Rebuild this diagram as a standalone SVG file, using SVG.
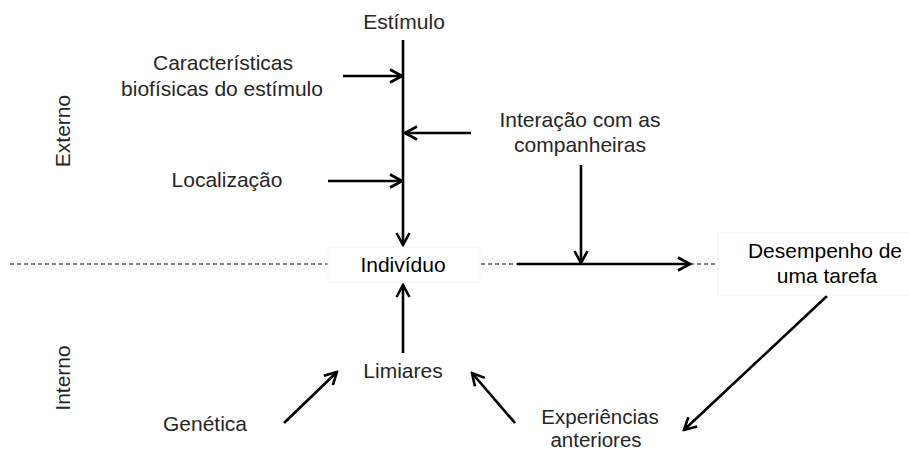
<svg xmlns="http://www.w3.org/2000/svg" width="909" height="452" viewBox="0 0 909 452">
<style>
text{font-family:"Liberation Sans",Arial,sans-serif;font-size:21px;fill:#262626;text-anchor:middle}
.key{fill:#000}
.small{font-size:20.5px}
.box{fill:#fff;stroke:#f4f4f4;stroke-width:1}
.arr{stroke:#000;stroke-width:2.6;fill:none;marker-end:url(#ah)}
.dash{stroke:#000;stroke-width:1;stroke-dasharray:4 3;fill:none}
</style>
<defs>
<marker id="ah" markerUnits="userSpaceOnUse" markerWidth="16" markerHeight="16" viewBox="-14 -8 16 16" refX="0" refY="0" orient="auto">
<path d="M-12,-6.5 L0,0 L-12,6.5" fill="none" stroke="#000" stroke-width="2.6"/>
</marker>
</defs>
<g id="boundaries">
<line class="dash" x1="10" y1="264" x2="328" y2="264"/>
<line class="dash" x1="481" y1="264" x2="517" y2="264"/>
<line class="dash" x1="690" y1="264" x2="718" y2="264"/>
<text transform="translate(70,131) rotate(-90)">Externo</text>
<text transform="translate(70,378) rotate(-90)">Interno</text>
</g>
<g id="connectors">
<line class="arr" x1="403" y1="40" x2="403" y2="245"/>
<line class="arr" x1="343" y1="76" x2="402" y2="76"/>
<line class="arr" x1="471" y1="133" x2="405" y2="133"/>
<line class="arr" x1="328" y1="181" x2="402" y2="181"/>
<line class="arr" x1="581" y1="165" x2="581" y2="263"/>
<line class="arr" x1="517" y1="264" x2="690" y2="264"/>
<line class="arr" x1="403" y1="353" x2="403" y2="285"/>
<line class="arr" x1="284" y1="423" x2="337" y2="372"/>
<line class="arr" x1="515" y1="423" x2="472" y2="373"/>
<line class="arr" x1="827" y1="296" x2="684" y2="430"/>
</g>
<g id="estimulo"><text x="404" y="29">Estímulo</text></g>
<g id="caracteristicas"><text x="223" y="70">Características</text><text x="222" y="96">biofísicas do estímulo</text></g>
<g id="localizacao"><text x="227" y="187">Localização</text></g>
<g id="interacao"><text x="580" y="127">Interação com as</text><text x="580" y="152">companheiras</text></g>
<g id="individuo"><rect class="box" x="328" y="247" width="152" height="35"/><text class="key" x="403" y="272">Indivíduo</text></g>
<g id="desempenho"><rect class="box" x="718" y="233" width="195" height="62"/><text class="key" x="825" y="258">Desempenho de</text><text class="key" x="827" y="283">uma tarefa</text></g>
<g id="limiares"><text x="403" y="378">Limiares</text></g>
<g id="genetica"><text x="205" y="431">Genética</text></g>
<g id="experiencias"><text class="small" x="600" y="424">Experiências</text><text class="small" x="596" y="447">anteriores</text></g>
</svg>
